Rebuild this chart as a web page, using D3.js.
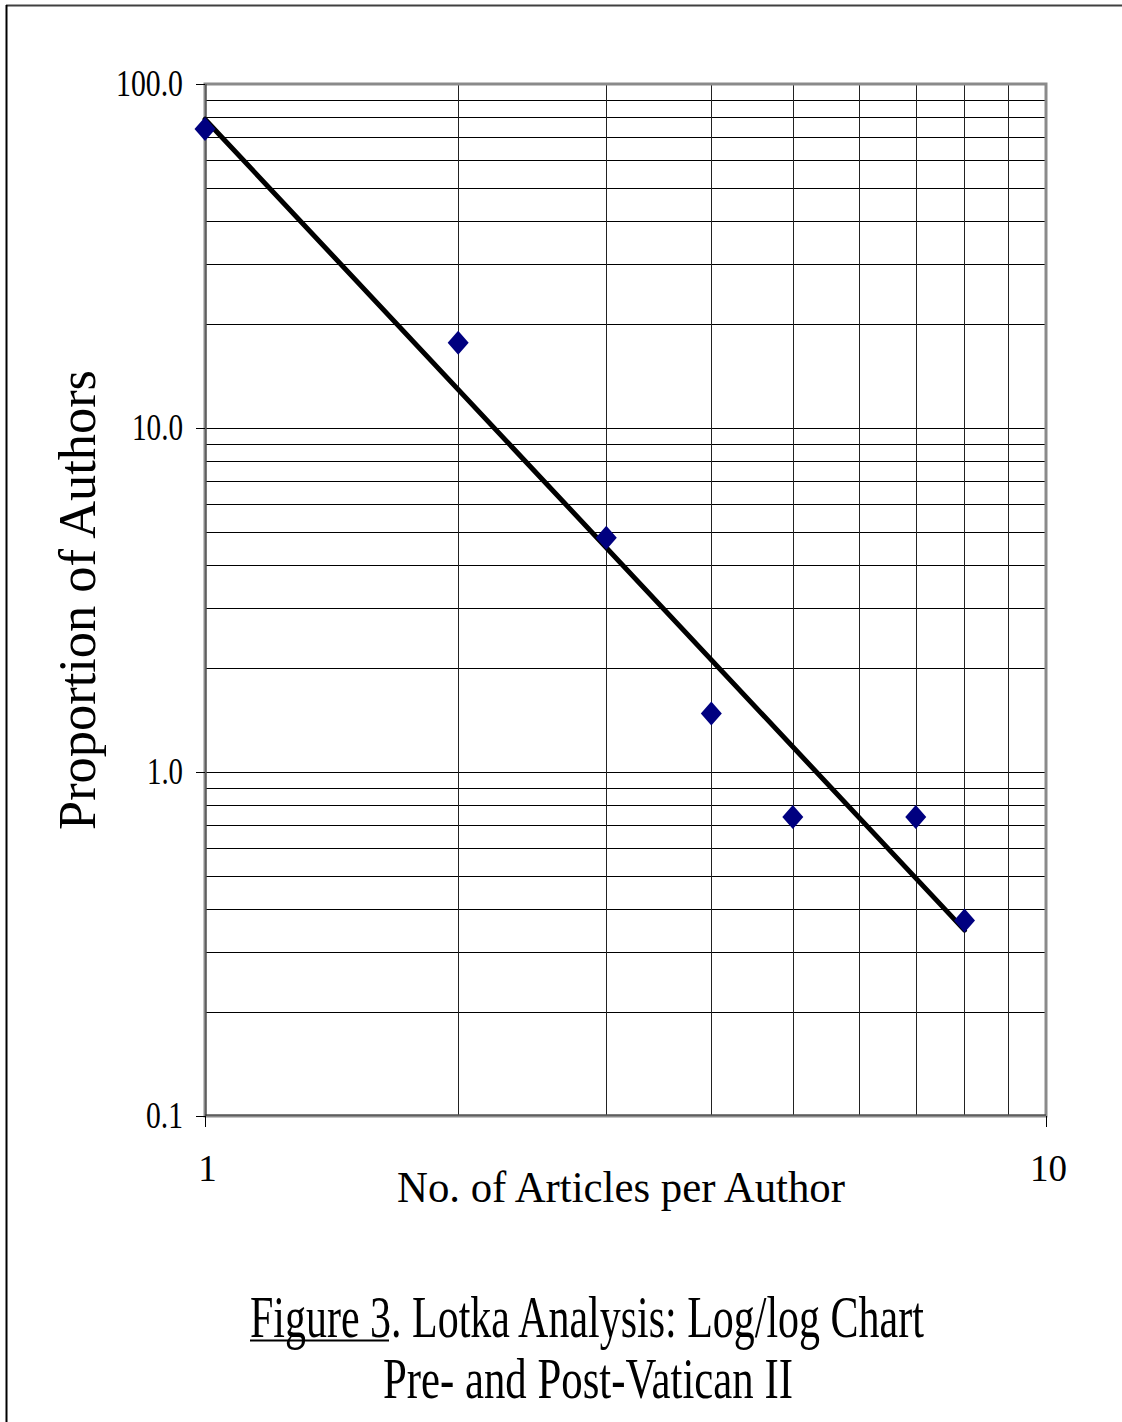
<!DOCTYPE html>
<html>
<head>
<meta charset="utf-8">
<script src="https://cdn.jsdelivr.net/npm/d3@7"></script>
<style>
  body { margin: 0; background: #fff; }
  text { font-family: "Liberation Serif", "Times New Roman", "DejaVu Serif", serif; fill: #000; }
</style>
</head>
<body>
<svg id="chart"></svg>
<script>
// data
const articles = [1, 2, 3, 4, 5, 7, 8]
const proportion = [74, 17.7, 4.8, 1.48, 0.74, 0.74, 0.37]
// power trendline endpoints
const trendX = [1, 8]
const trendY = [79, 0.347]
const yTicks = [0.1, 1, 10, 100]
const yTickLabels = ["0.1", "1.0", "10.0", "100.0"]
const yLabelWidths = [37, 36, 51, 67]
const xTicks = [1, 10]

const width = 1122
const height = 1422
const plot = {left: 205, top: 84, right: 1046, bottom: 1116}
const serif = '"Liberation Serif", "Times New Roman", "DejaVu Serif", serif'

const svg = d3.select("#chart").attr("width", width).attr("height", height)

// outer frame of the page
svg.append("line").attr("x1", 6).attr("x2", width).attr("y1", 5.5).attr("y2", 5.5)
    .attr("stroke", "#404040").attr("stroke-width", 2)
svg.append("line").attr("x1", 6.5).attr("x2", 6.5).attr("y1", 5).attr("y2", height)
    .attr("stroke", "#000").attr("stroke-width", 2)

const xScale = d3.scaleLog().domain([1, 10]).range([plot.left, plot.right])
const yScale = d3.scaleLog().domain([0.1, 100]).range([plot.bottom, plot.top])

// grid
const grid = svg.append("g")
grid.selectAll(".hgrid").data(yScale.ticks()).enter().append("line")
    .attr("x1", plot.left).attr("x2", plot.right)
    .attr("y1", d => Math.round(yScale(d)) + 0.5).attr("y2", d => Math.round(yScale(d)) + 0.5)
    .attr("stroke", "#000").attr("stroke-width", 1)
grid.selectAll(".vgrid").data(xScale.ticks()).enter().append("line")
    .attr("y1", plot.top).attr("y2", plot.bottom)
    .attr("x1", d => Math.round(xScale(d)) + 0.5).attr("x2", d => Math.round(xScale(d)) + 0.5)
    .attr("stroke", "#222").attr("stroke-width", 1)

// plot border (gray)
svg.append("rect")
    .attr("x", plot.left).attr("y", plot.top)
    .attr("width", plot.right - plot.left).attr("height", plot.bottom - plot.top)
    .attr("fill", "none").attr("stroke", "#8a8a8a").attr("stroke-width", 3)
svg.append("line").attr("x1", plot.left + 1).attr("x2", plot.left + 1)
    .attr("y1", plot.top).attr("y2", plot.bottom).attr("stroke", "#333").attr("stroke-width", 1)
svg.append("line").attr("x1", plot.left).attr("x2", plot.right)
    .attr("y1", plot.bottom - 1).attr("y2", plot.bottom - 1).attr("stroke", "#333").attr("stroke-width", 1)

// y axis
const yAxis = svg.append("g").attr("transform", `translate(${plot.left},0)`)
    .call(d3.axisLeft(yScale).tickValues(yTicks).tickSize(9).tickPadding(13)
        .tickFormat((d, i) => yTickLabels[i]))
yAxis.attr("font-family", serif).attr("font-size", 37)
yAxis.select(".domain").remove()
yAxis.selectAll("line").attr("stroke", "#000")
yAxis.selectAll("text")
    .style("font-family", serif)
    .attr("textLength", (d, i) => yLabelWidths[i])
    .attr("lengthAdjust", "spacingAndGlyphs")

// x axis
const xAxis = svg.append("g").attr("transform", `translate(0,${plot.bottom})`)
    .call(d3.axisBottom(xScale).tickValues(xTicks).tickSize(11).tickPadding(54)
        .tickFormat(d3.format("d")))
xAxis.attr("font-family", serif).attr("font-size", 37)
xAxis.select(".domain").remove()
xAxis.selectAll("line").attr("stroke", "#000")
xAxis.selectAll("text")
    .style("font-family", serif)
    .attr("dy", 0)
    .attr("dx", 2)

// trendline
svg.append("line")
    .attr("x1", xScale(trendX[0])).attr("y1", yScale(trendY[0]))
    .attr("x2", xScale(trendX[1])).attr("y2", yScale(trendY[1]))
    .attr("stroke", "#000").attr("stroke-width", 5).attr("stroke-linecap", "round")

// diamond markers
const pts = articles.map((a, i) => ({x: a, y: proportion[i]}))
svg.selectAll(".pt").data(pts).enter().append("path")
    .attr("class", "pt")
    .attr("d", "M0,-12L10.5,0L0,12L-10.5,0Z")
    .attr("transform", d => `translate(${xScale(d.x)},${yScale(d.y)})`)
    .attr("fill", "#000080")

// axis titles
svg.append("text")
    .attr("transform", "translate(95,600) rotate(-90)")
    .attr("text-anchor", "middle")
    .attr("font-size", 52)
    .attr("textLength", 460).attr("lengthAdjust", "spacingAndGlyphs")
    .text("Proportion of Authors")

svg.append("text")
    .attr("x", 397).attr("y", 1202)
    .attr("font-size", 44)
    .attr("textLength", 448).attr("lengthAdjust", "spacingAndGlyphs")
    .text("No. of Articles per Author")

// caption: narrow type, squeezed with a horizontal scale
function squeezed(str, x, y, size, w) {
    const t = svg.append("text").attr("font-size", size).text(str)
    const natural = t.node().getComputedTextLength()
    t.attr("transform", `translate(${x},${y}) scale(${w / natural},1)`)
    return t
}
squeezed("Figure 3. Lotka Analysis: Log/log Chart", 250, 1337, 60, 674)
svg.append("line").attr("x1", 250).attr("x2", 389).attr("y1", 1340.5).attr("y2", 1340.5)
    .attr("stroke", "#000").attr("stroke-width", 2)
squeezed("Pre- and Post-Vatican II", 383, 1398, 56, 410)
</script>
</body>
</html>
